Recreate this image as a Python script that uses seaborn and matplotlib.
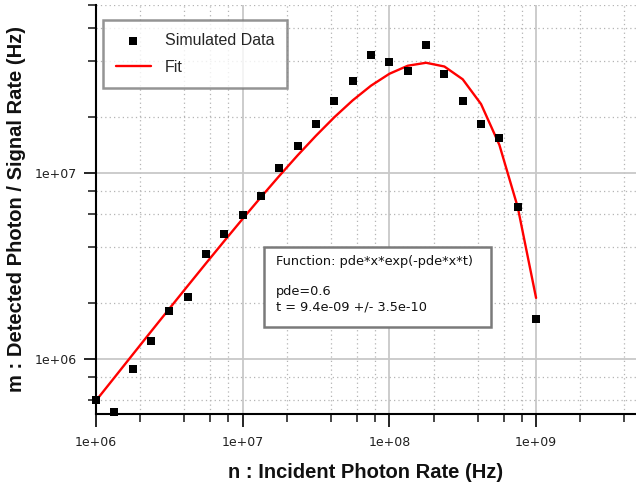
import matplotlib
matplotlib.use("Agg")
import matplotlib.pyplot as plt
import matplotlib.ticker as mticker
from matplotlib.patches import Rectangle
import seaborn as sns
import pandas as pd

# incident photon rate (Hz), 8 points per decade
rate = [1.0e6, 1.334e6, 1.778e6, 2.371e6, 3.162e6, 4.217e6, 5.623e6, 7.499e6,
        1.0e7, 1.334e7, 1.778e7, 2.371e7, 3.162e7, 4.217e7, 5.623e7, 7.499e7,
        1.0e8, 1.334e8, 1.778e8, 2.371e8, 3.162e8, 4.217e8, 5.623e8, 7.499e8,
        1.0e9]

# simulated detected rate
simulated = [6.0e5, 5.17e5, 8.8e5, 1.25e6, 1.81e6, 2.15e6, 3.65e6, 4.72e6,
             5.92e6, 7.52e6, 1.07e7, 1.40e7, 1.84e7, 2.43e7, 3.14e7, 4.33e7,
             3.97e7, 3.55e7, 4.90e7, 3.39e7, 2.43e7, 1.84e7, 1.55e7, 6.54e6,
             1.65e6]

# fitted curve pde*x*exp(-pde*x*t), pde=0.6, t=9.4e-9
fit = [5.97e5, 7.94e5, 1.056e6, 1.404e6, 1.864e6, 2.471e6, 3.269e6, 4.313e6,
       5.671e6, 7.424e6, 9.650e6, 1.245e7, 1.587e7, 1.995e7, 2.457e7, 2.948e7,
       3.414e7, 3.772e7, 3.913e7, 3.736e7, 3.189e7, 2.346e7, 1.415e7, 6.55e6,
       2.13e6]

df = pd.DataFrame({"n": rate, "m": simulated, "fit": fit})

sns.set_style("white")
fig = plt.figure(figsize=(6.36, 4.83), dpi=100)
ax = fig.add_axes([96 / 636, 69 / 483, 540 / 636, 409 / 483])

ax.set_xscale("log")
ax.set_yscale("log")

sns.scatterplot(data=df, x="n", y="m", ax=ax, marker="s", s=38, color="black",
                edgecolor="black", linewidth=0, label="Simulated Data",
                clip_on=False, zorder=4)
sns.lineplot(data=df, x="n", y="fit", ax=ax, color="red", lw=1.7, label="Fit",
             zorder=3)

ax.set_xlim(1e6, 4.8e9)
ax.set_ylim(5.06e5, 8.0e7)

for axis in (ax.xaxis, ax.yaxis):
    axis.set_major_locator(mticker.LogLocator(base=10))
    axis.set_minor_locator(mticker.LogLocator(base=10, subs=[2, 4, 6, 8]))
    axis.set_major_formatter(mticker.FuncFormatter(lambda v, p: f"{v:.0e}"))
    axis.set_minor_formatter(mticker.NullFormatter())

ax.grid(True, which="major", color="#c8c8c8", lw=1.3, ls="-")
ax.grid(True, which="minor", color="#b4b4b4", lw=0.9, ls=(0, (1, 2.5)))
ax.set_axisbelow(True)

ax.tick_params(which="major", direction="out", length=9, width=1.2,
               labelsize=9, colors="black", labelcolor="#202020",
               bottom=True, left=True)
ax.tick_params(which="minor", direction="out", length=6, width=1.2,
               bottom=True, left=True)
ax.tick_params(axis="x", pad=7)
ax.tick_params(axis="y", pad=5)

for s in ("top", "right"):
    ax.spines[s].set_visible(False)
for s in ("left", "bottom"):
    ax.spines[s].set_color("black")
    ax.spines[s].set_linewidth(1.5)

lab_font = dict(family="Liberation Sans", fontsize=14.5, fontweight="bold",
                color="#111111")
ax.set_xlabel("n : Incident Photon Rate (Hz)", labelpad=10, **lab_font)
ax.set_ylabel("m : Detected Photon / Signal Rate (Hz)", labelpad=6, **lab_font)

leg = ax.legend(loc="upper left", bbox_to_anchor=(0.013, 0.963),
                prop={"family": "Liberation Sans", "size": 11.5},
                frameon=True, fancybox=False, handlelength=2.2,
                handletextpad=0.85, borderpad=0.8, labelspacing=0.75,
                borderaxespad=0)
leg.get_frame().set_edgecolor("#7a7a7a")
leg.get_frame().set_linewidth(1.8)

# fit info box
ax.add_patch(Rectangle((0.311, 0.2127), 0.4205, 0.1956, transform=ax.transAxes,
                       fc="white", ec="#7a7a7a", lw=1.8, zorder=5))
ax.text(0.333, 0.388,
        "Function: pde*x*exp(-pde*x*t)\n\npde=0.6\nt = 9.4e-09 +/- 3.5e-10",
        transform=ax.transAxes, fontsize=9.3, family="DejaVu Sans",
        va="top", ha="left", linespacing=1.2, color="#111111", zorder=6)

fig.savefig("out.png", dpi=100)
